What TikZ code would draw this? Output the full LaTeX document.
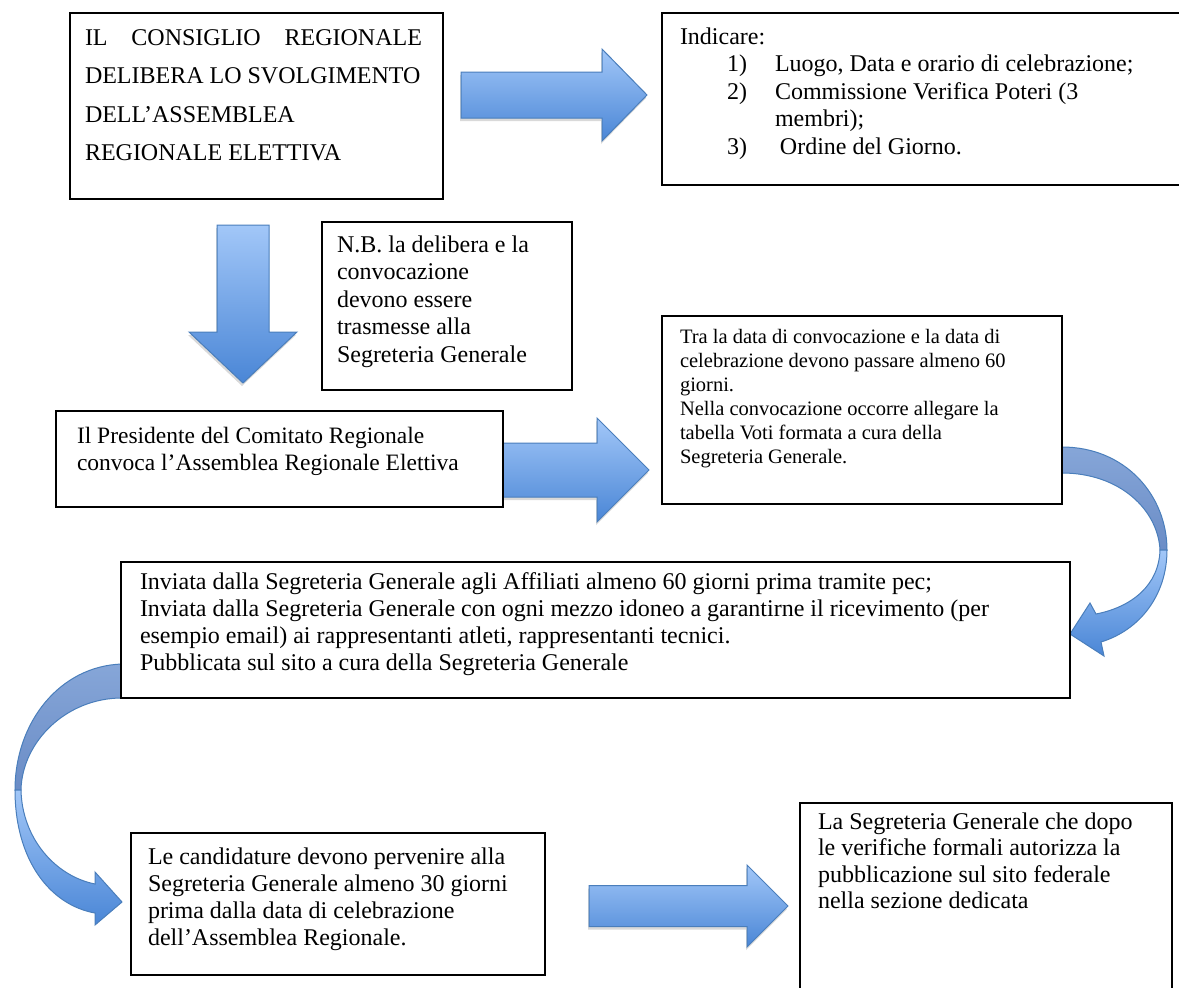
\documentclass[tikz,border=0pt]{standalone}
\usepackage{fontspec}
\setmainfont{Liberation Serif}
\usetikzlibrary{calc,shadows,backgrounds}
\definecolor{abord}{HTML}{4A7EBB}
\definecolor{atop}{HTML}{A2C7F8}
\definecolor{abot}{HTML}{4A86D6}
\definecolor{cback}{HTML}{86A6D8}
\definecolor{cbackd}{HTML}{6A8CC6}
\newcommand{\hblockarrow}[5]{% tail, tip, body half, head half, head length
  \path[blockarrow] ($(#1)+(0,-#3)$) -- ($(#2)+(-#5,-#3)$) -- ($(#2)+(-#5,-#4)$) -- (#2)
    -- ($(#2)+(-#5,#4)$) -- ($(#2)+(-#5,#3)$) -- ($(#1)+(0,#3)$) -- cycle;}
\newcommand{\vblockarrow}[5]{%
  \path[blockarrow] ($(#1)+(-#3,0)$) -- ($(#2)+(-#3,-#5)$) -- ($(#2)+(-#4,-#5)$) -- (#2)
    -- ($(#2)+(#4,-#5)$) -- ($(#2)+(#3,-#5)$) -- ($(#1)+(#3,0)$) -- cycle;}
\begin{document}
\begin{tikzpicture}[x=1pt,y=-1pt,
  box/.style={draw=black, line width=1.1pt, fill=white, anchor=north west, inner sep=0pt, outer sep=0pt},
  txt/.style={anchor=base west, inner sep=0pt, outer sep=0pt},
  blockarrow/.style={draw=abord, line width=1pt, top color=atop, bottom color=abot, line join=miter,
     drop shadow={shadow xshift=-1pt, shadow yshift=-3pt, opacity=0.25, fill=black!60}},
  backside/.style={draw=abord, line width=1pt, top color=cback, bottom color=cbackd},
  frontside/.style={draw=abord, line width=1pt, top color=atop, bottom color=abot},
  ]
\useasboundingbox (0,0) rectangle (1179,988);
\clip (0,0) rectangle (1179,988);

% boxes
\node[box, minimum width=373pt, minimum height=186pt] (b1) at (70,13) {};
\node[box, minimum width=540pt, minimum height=172pt] (b2) at (662,13) {};
\node[box, minimum width=250pt, minimum height=168pt] (bnb) at (322,222) {};
\node[box, minimum width=447pt, minimum height=96pt] (b3) at (56,411) {};
\node[box, minimum width=400pt, minimum height=188pt] (b4) at (662,316) {};
\node[box, minimum width=949pt, minimum height=136pt] (b5) at (121,562) {};
\node[box, minimum width=414pt, minimum height=142pt] (b6) at (131,833) {};
\node[box, minimum width=372pt, minimum height=200pt] (b7) at (800,803) {};

% texts
\node[txt] (t1) at (85,45) {\parbox[t]{340pt}{\raggedright\fontsize{24}{38.5}\selectfont
  \makebox[337pt][s]{IL CONSIGLIO REGIONALE}\\
  DELIBERA LO SVOLGIMENTO\\
  DELL’ASSEMBLEA\\
  REGIONALE ELETTIVA}};
\node[txt] (t2) at (680,44) {\parbox[t]{500pt}{\raggedright\fontsize{24}{27.6}\selectfont
  Indicare:\\
  \hspace*{47pt}\makebox[48pt][l]{1)}Luogo, Data e orario di celebrazione;\\
  \hspace*{47pt}\makebox[48pt][l]{2)}Commissione Verifica Poteri (3\\
  \hspace*{95pt}membri);\\
  \hspace*{47pt}\makebox[48pt][l]{3)}\hspace*{5pt}Ordine del Giorno.}};
\node[txt] (tnb) at (337,252) {\parbox[t]{230pt}{\raggedright\fontsize{24}{27.6}\selectfont
  N.B. la delibera e la\\
  convocazione\\
  devono essere\\
  trasmesse alla\\
  Segreteria Generale}};
\node[txt] (t3) at (77,443) {\parbox[t]{420pt}{\raggedright\fontsize{23.5}{27}\selectfont
  Il Presidente del Comitato Regionale\\
  convoca l’Assemblea Regionale Elettiva}};
\node[txt] (t4) at (680,343) {\parbox[t]{380pt}{\raggedright\fontsize{20.5}{24}\selectfont
  Tra la data di convocazione e la data di\\
  celebrazione devono passare almeno 60\\
  giorni.\\
  Nella convocazione occorre allegare la\\
  tabella Voti formata a cura della\\
  Segreteria Generale.}};
\node[txt] (t5) at (140,589) {\parbox[t]{925pt}{\raggedright\fontsize{24}{27}\selectfont
  Inviata dalla Segreteria Generale agli Affiliati almeno 60 giorni prima tramite pec;\\
  Inviata dalla Segreteria Generale con ogni mezzo idoneo a garantirne il ricevimento (per\\
  esempio email) ai rappresentanti atleti, rappresentanti tecnici.\\
  Pubblicata sul sito a cura della Segreteria Generale}};
\node[txt] (t6) at (148,864) {\parbox[t]{390pt}{\raggedright\fontsize{24}{27}\selectfont
  Le candidature devono pervenire alla\\
  Segreteria Generale almeno 30 giorni\\
  prima dalla data di celebrazione\\
  dell’Assemblea Regionale.}};
\node[txt] (t7) at (818,829) {\parbox[t]{350pt}{\raggedright\fontsize{24}{26.5}\selectfont
  La Segreteria Generale che dopo\\
  le verifiche formali autorizza la\\
  pubblicazione sul sito federale\\
  nella sezione dedicata}};

\begin{scope}[on background layer]
% arrow end points
\coordinate (a1t) at (461,95);  \coordinate (a1h) at (647,95);
\coordinate (a2t) at (b3.east |- 0,470); \coordinate (a2h) at (649,470);
\coordinate (a3t) at (589,906); \coordinate (a3h) at (788,906);
\coordinate (adt) at (243,225); \coordinate (adh) at (243,383);

\hblockarrow{a1t}{a1h}{23}{46}{45}
\hblockarrow{a2t}{a2h}{27}{52}{52}
\hblockarrow{a3t}{a3h}{20.5}{41}{41}
\vblockarrow{adt}{adh}{26}{54}{51}

% right curved arrow (from b4 to b5)
\path[backside] (1062,447) .. controls (1125,447) and (1167,495) .. (1167,550)
   -- (1160,550) .. controls (1158,510) and (1120,473) .. (1062,473) -- cycle;
\path[frontside] (1167,550) .. controls (1167,595) and (1140,630) .. (1101,642)
   -- (1104,656) -- (1070,634) -- (1090,603) -- (1096,614)
   .. controls (1132,607) and (1159,585) .. (1160,550) -- cycle;

% left curved arrow (from b5 to b6)
\path[backside] (122,664) .. controls (60,666) and (15,722) .. (15,790)
   -- (21,790) .. controls (22,742) and (66,698) .. (122,698) -- cycle;
\path[frontside] (15,790) .. controls (15,860) and (50,905) .. (95,913)
   -- (95,925) -- (122,902) -- (95,872) -- (95,884)
   .. controls (55,876) and (22,838) .. (21,790) -- cycle;
\end{scope}
\end{tikzpicture}
\end{document}
